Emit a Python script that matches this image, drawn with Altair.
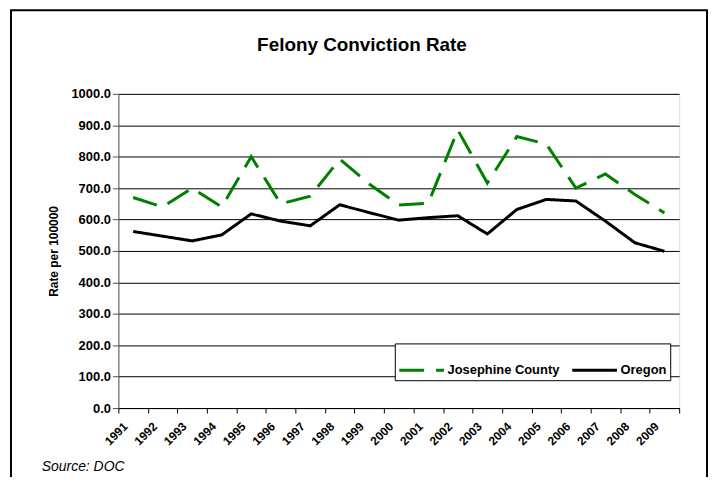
import altair as alt
import pandas as pd

years = [str(y) for y in range(1991, 2010)]
josephine = [670, 640, 700, 640, 800, 650, 674, 792, 713, 646, 652, 885, 716,
             864, 840, 700, 745, 680, 621]
oregon = [562, 547, 532, 551, 618, 595, 580, 647, 622, 598, 606, 612, 554,
          632, 664, 659, 595, 526, 499]
series = ["Josephine County", "Oregon"]
y_ticks = [0, 100, 200, 300, 400, 500, 600, 700, 800, 900, 1000]

rows = []
for name, vals in zip(series, [josephine, oregon]):
    for yr, v in zip(years, vals):
        rows.append({"year": yr, "series": name, "value": v})
df = pd.DataFrame(rows)

FONT = "Liberation Sans"

lines = alt.Chart(df).mark_line(strokeWidth=3).encode(
    x=alt.X("year:O", bandPosition=0.5,
            scale=alt.Scale(type="band", paddingInner=0, paddingOuter=0),
            axis=alt.Axis(title=None, tickBand="extent", labelAngle=315,
                          labelAlign="right", labelBaseline="middle",
                          labelFont=FONT, labelFontSize=12, labelFontWeight="bold",
                          labelColor="black", domainColor="black", tickColor="black",
                          tickSize=5, labelPadding=11, labelOffset=-8, grid=False)),
    y=alt.Y("value:Q", scale=alt.Scale(domain=[0, 1000]),
            axis=alt.Axis(title="Rate per 100000", values=y_ticks, format=".1f",
                          labelFont=FONT, labelFontSize=13, labelFontWeight="bold",
                          labelColor="black", titleFont=FONT, titleFontSize=12,
                          titleFontWeight="bold", titleColor="black", titlePadding=10,
                          domainColor="#555", tickColor="#555", tickSize=6,
                          gridColor="black", gridWidth=1, gridOpacity=1)),
    color=alt.Color("series:N", scale=alt.Scale(domain=series, range=["#008000", "#000000"]),
                    legend=alt.Legend(title=None, orient="none", legendX=278, legendY=251,
                                      direction="horizontal", strokeColor="black",
                                      fillColor="white", padding=3, symbolType="stroke",
                                      symbolSize=2025, symbolStrokeWidth=3,
                                      labelFont=FONT, labelFontSize=13,
                                      labelFontWeight="bold", labelColor="black",
                                      columnPadding=6, labelOffset=2)),
    strokeDash=alt.StrokeDash("series:N", scale=alt.Scale(domain=series, range=[[25, 12], [1, 0]]),
                              legend=alt.Legend(title=None)),
)

border = alt.Chart(alt.Data(values=[{"k": 1}])).mark_rect(
    filled=False, stroke="black", strokeWidth=2
).encode(x=alt.value(-108), x2=alt.value(592), y=alt.value(-84), y2=alt.value(500))

title = alt.Chart(alt.Data(values=[{"t": "Felony Conviction Rate"}])).mark_text(
    font=FONT, fontSize=19, fontWeight="bold", align="center", baseline="alphabetic",
    color="black"
).encode(text="t:N", x=alt.value(245), y=alt.value(-43))

source = alt.Chart(alt.Data(values=[{"t": "Source: DOC"}])).mark_text(
    font=FONT, fontSize=14, fontStyle="italic", align="left", baseline="alphabetic",
    color="black"
).encode(text="t:N", x=alt.value(-77), y=alt.value(379))

chart = alt.layer(lines, border, title, source).properties(
    width=564, height=316,
    autosize=alt.AutoSizeParams(type="none"),
    padding={"left": 111, "top": 85, "right": 30, "bottom": 68},
).configure_view(stroke="#808080", strokeWidth=1).configure(background="white")

chart.save("out.html", embed_options={"renderer": "svg", "actions": False})
